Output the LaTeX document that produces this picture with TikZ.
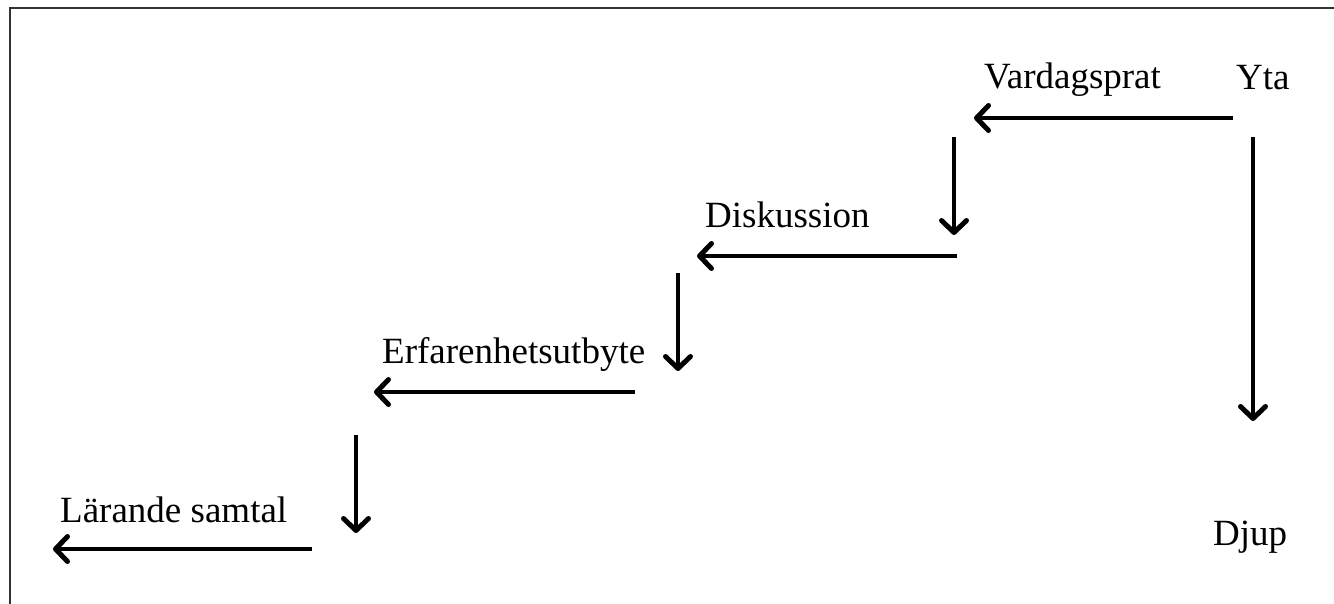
\documentclass[tikz,border=0pt]{standalone}
\usepackage{fontspec}
\setmainfont{Liberation Serif}
\usetikzlibrary{arrows.meta}
\begin{document}
\begin{tikzpicture}[x=1pt,y=-1pt,
  lbl/.style={inner sep=0pt, anchor=base west, font=\fontsize{37}{44}\selectfont},
  arr/.style={line width=4.3pt, -{Straight Barb[length=12pt,width=25pt,line width=5pt,round]}},
  framestyle/.style={line width=2.5pt, draw=black!80}]
\useasboundingbox (0,0) rectangle (1334,603);
% frame
\coordinate (fbl) at (10,604);
\coordinate (ftl) at (10,8);
\coordinate (ftr) at (1335,8);
\draw[framestyle] (fbl) -- (ftl) -- (ftr);
% labels
\node[lbl] (yta) at (1236,89) {Yta};
\node[lbl] (vard) at (984,88) {Vardagsprat};
\node[lbl] (disk) at (705,227) {Diskussion};
\node[lbl] (erf) at (382,363) {Erfarenhetsutbyte};
\node[lbl] (lar) at (60,522) {Lärande samtal};
\node[lbl] (djup) at (1213,545) {Djup};
% arrow endpoints
\coordinate (h1s) at (1233,118); \coordinate (h1e) at (974,118);
\coordinate (v0s) at (1253,137); \coordinate (v0e) at (1253,421);
\coordinate (v1s) at (954,137);  \coordinate (v1e) at (954,235);
\coordinate (h2s) at (957,256);  \coordinate (h2e) at (697,256);
\coordinate (v2s) at (678,273);  \coordinate (v2e) at (678,371);
\coordinate (h3s) at (635,392);  \coordinate (h3e) at (374,392);
\coordinate (v3s) at (356,435);  \coordinate (v3e) at (356,533);
\coordinate (h4s) at (312,549);  \coordinate (h4e) at (53,549);
\draw[arr] (h1s) -- (h1e);
\draw[arr] (v0s) -- (v0e);
\draw[arr] (v1s) -- (v1e);
\draw[arr] (h2s) -- (h2e);
\draw[arr] (v2s) -- (v2e);
\draw[arr] (h3s) -- (h3e);
\draw[arr] (v3s) -- (v3e);
\draw[arr] (h4s) -- (h4e);
\end{tikzpicture}
\end{document}
